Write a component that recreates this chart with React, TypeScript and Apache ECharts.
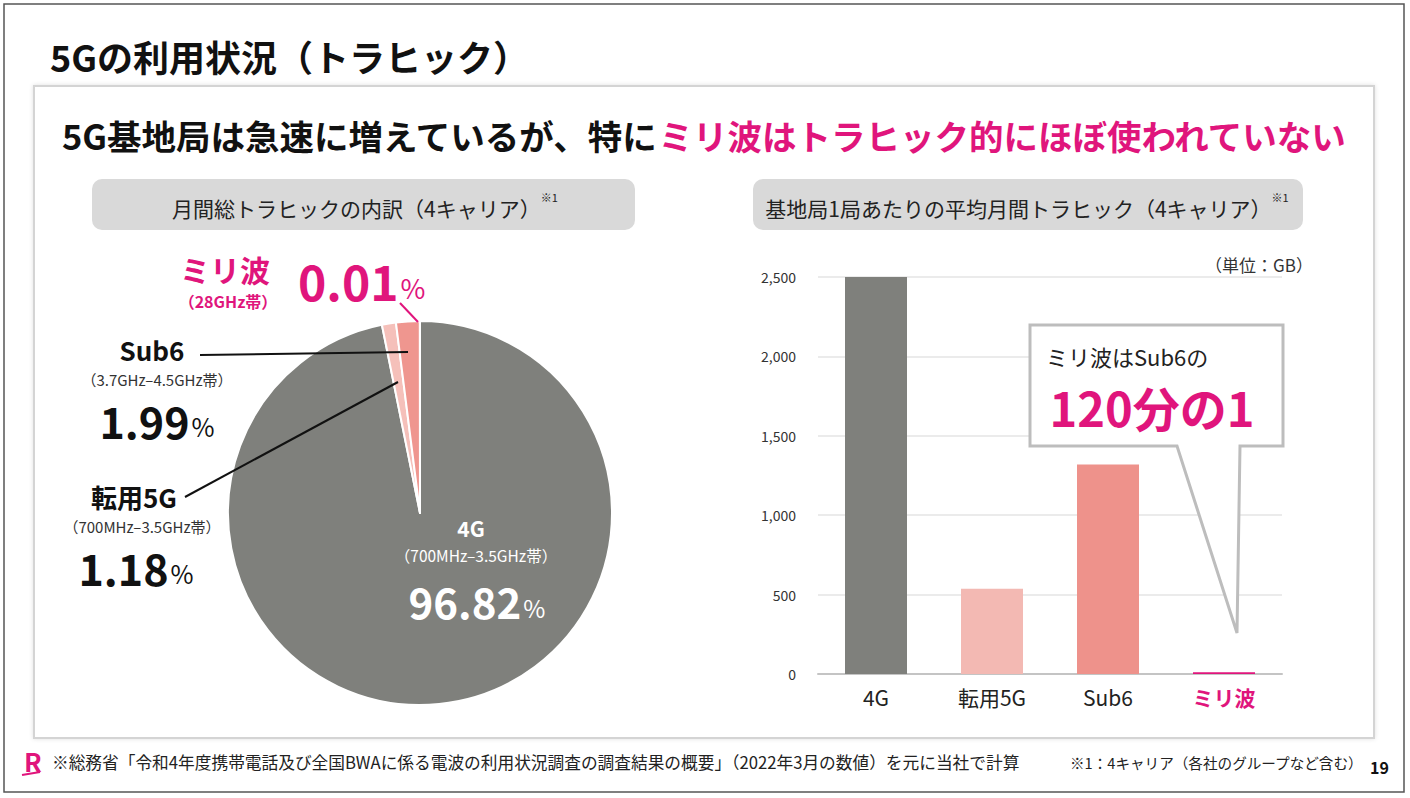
import React, { useEffect, useRef } from 'react';
import * as echarts from 'echarts';

// ---- data ----
const categories = ['4G', '転用5G', 'Sub6', 'ミリ波'];
const pieShares = [96.82, 1.18, 1.99, 0.01];
const barValues = [2510, 537, 1319, 11];
const yMin = 0;
const yMax = 2500;
const yInterval = 500;
const barColors = ['#7f807c', '#f3b9b3', '#ee928b', '#e0157c'];
const pieColors = ['#7f807c', '#f5c0ba', '#ef968f', '#e0157c'];

const titleText = '5Gの利用状況（トラヒック）';
const headBlack = '5G基地局は急速に増えているが、特に';
const headPink = 'ミリ波はトラヒック的にほぼ使われていない';
const leftBoxText = '月間総トラヒックの内訳（4キャリア）';
const rightBoxText = '基地局1局あたりの平均月間トラヒック（4キャリア）';
const noteMark = '※1';
const unitText = '（単位：GB）';
const calloutLine1 = 'ミリ波はSub6の';
const calloutLine2 = '120分の1';
const footerText = '※総務省「令和4年度携帯電話及び全国BWAに係る電波の利用状況調査の調査結果の概要」（2022年3月の数値）を元に当社で計算';
const footerNote = '※1：4キャリア（各社のグループなど含む）';
const pageNo = '19';

const PINK = '#e0157c';
const JP = '"Noto Sans CJK JP", "Noto Sans", sans-serif';

function txt(text: string, x: number, y: number, size: number, opts: any = {}) {
  return {
    type: 'text',
    z: opts.z ?? 50,
    style: {
      text,
      x,
      y,
      fontSize: size,
      fontFamily: JP,
      fontWeight: opts.weight ?? 'normal',
      fill: opts.fill ?? '#222',
      align: opts.align ?? 'left',
      verticalAlign: opts.valign ?? 'middle',
      lineHeight: opts.lh ?? Math.round(size * 1.15),
    },
  };
}

function pctText(num: string, x: number, y: number, color: string, big: number, small: number, align = 'center') {
  return {
    type: 'text',
    z: 50,
    style: {
      text: `{n|${num}}{p|%}`,
      x,
      y,
      align,
      verticalAlign: 'middle',
      rich: {
        n: { fontSize: big, fontWeight: 'bold', fontFamily: JP, fill: color, verticalAlign: 'bottom', lineHeight: big },
        p: { fontSize: small, fontWeight: 'normal', fontFamily: JP, fill: color, verticalAlign: 'bottom', lineHeight: small, padding: [0, 0, 3, 2] },
      },
    },
  };
}

function boxTitle(text: string, x: number, y: number) {
  return {
    type: 'text',
    z: 50,
    style: {
      text: `{m|${text}}{s|${noteMark}}`,
      x,
      y,
      align: 'center',
      verticalAlign: 'middle',
      rich: {
        m: { fontSize: 21, fontFamily: JP, fill: '#222', verticalAlign: 'bottom', lineHeight: 26 },
        s: { fontSize: 11, fontFamily: JP, fill: '#222', verticalAlign: 'top', lineHeight: 14 },
      },
    },
  };
}

export default function App() {
  const ref = useRef<HTMLDivElement>(null);
  useEffect(() => {
    document.body.style.margin = '0';
    const chart = echarts.init(ref.current!, null, { renderer: 'svg' });
    const option: any = {
      animation: false,
      backgroundColor: '#ffffff',
      grid: { left: 818, right: 128, top: 277, bottom: 124, containLabel: false },
      xAxis: {
        type: 'category',
        data: categories.map((c, i) =>
          i === 3 ? { value: c, textStyle: { color: PINK, fontWeight: 'bold' } } : c
        ),
        axisLine: { lineStyle: { color: '#c4c4c4', width: 2 } },
        axisTick: { show: false },
        axisLabel: { fontSize: 21, color: '#222', fontFamily: JP, margin: 12 },
      },
      yAxis: {
        type: 'value',
        min: yMin,
        max: yMax,
        interval: yInterval,
        axisLine: { show: false },
        axisTick: { show: false },
        axisLabel: { fontSize: 14, color: '#333', fontFamily: JP, margin: 22 },
        splitLine: { lineStyle: { color: '#e4e4e4', width: 1.5 } },
      },
      series: [
        {
          type: 'pie',
          center: [420, 513],
          radius: 192,
          startAngle: 90,
          clockwise: true,
          label: { show: false },
          labelLine: { show: false },
          emphasis: { disabled: true },
          itemStyle: { borderColor: '#ffffff', borderWidth: 2 },
          data: categories.map((c, i) => ({ name: c, value: pieShares[i], itemStyle: { color: pieColors[i] } })),
        },
        {
          type: 'bar',
          barWidth: 62,
          emphasis: { disabled: true },
          data: barValues.map((v, i) => ({ value: v, itemStyle: { color: barColors[i] } })),
        },
      ],
      graphic: [
        // page frame
        { type: 'rect', z: -10, shape: { x: 34, y: 86, width: 1340, height: 652 }, style: { fill: '#fff', stroke: '#d4d4d4', lineWidth: 2, shadowBlur: 4, shadowColor: 'rgba(0,0,0,0.12)' } },
        { type: 'rect', z: 1, shape: { x: 4, y: 4, width: 1400, height: 788 }, style: { fill: 'none', stroke: '#555', lineWidth: 1.5 } },
        txt(titleText, 50, 56, 36, { weight: 'bold', fill: '#111' }),
        {
          type: 'text', z: 50,
          style: {
            text: `{a|${headBlack}}{b|${headPink}}`,
            x: 62, y: 135, verticalAlign: 'middle', align: 'left',
            rich: {
              a: { fontSize: 34.5, fontWeight: 'bold', fontFamily: JP, fill: '#111' },
              b: { fontSize: 34.5, fontWeight: 'bold', fontFamily: JP, fill: PINK },
            },
          },
        },
        // section header boxes
        { type: 'rect', z: 5, shape: { x: 92, y: 179, width: 543, height: 51, r: 10 }, style: { fill: '#d9d9d9' } },
        { type: 'rect', z: 5, shape: { x: 753, y: 179, width: 550, height: 51, r: 10 }, style: { fill: '#d9d9d9' } },
        boxTitle(leftBoxText, 365, 205),
        boxTitle(rightBoxText, 1027, 205),
        // pie labels
        txt('ミリ波', 225, 269, 30, { weight: 'bold', fill: PINK, align: 'center', lh: 32 }),
        txt('（28GHz帯）', 228, 301, 16, { weight: 'bold', fill: PINK, align: 'center', lh: 17 }),
        pctText('0.01', 298, 280, PINK, 48, 27, 'left'),
        { type: 'line', z: 50, shape: { x1: 400, y1: 303, x2: 418, y2: 322 }, style: { stroke: PINK, lineWidth: 2 } },

        txt('Sub6', 152, 349, 26, { weight: 'bold', fill: '#111', align: 'center', lh: 27 }),
        txt('（3.7GHz–4.5GHz帯）', 157, 379, 15, { align: 'center', fill: '#333', lh: 16 }),
        pctText('1.99', 157, 420, '#111', 43, 25),
        { type: 'line', z: 50, shape: { x1: 200, y1: 355, x2: 408, y2: 352 }, style: { stroke: '#111', lineWidth: 2 } },

        txt('転用5G', 134, 496, 26, { weight: 'bold', fill: '#111', align: 'center', lh: 27 }),
        txt('（700MHz–3.5GHz帯）', 142, 526, 15, { align: 'center', fill: '#333', lh: 16 }),
        pctText('1.18', 136, 567, '#111', 43, 25),
        { type: 'line', z: 50, shape: { x1: 185, y1: 497, x2: 398, y2: 382 }, style: { stroke: '#111', lineWidth: 2 } },

        txt('4G', 471, 528, 21, { weight: 'bold', fill: '#fff', align: 'center', lh: 22 }),
        txt('（700MHz–3.5GHz帯）', 476, 555, 15.5, { fill: '#fff', align: 'center', lh: 16 }),
        pctText('96.82', 477, 601, '#fff', 42, 24),

        // bar chart annotations
        txt(unitText, 1313, 264, 17, { align: 'right', fill: '#333' }),
        {
          type: 'polygon', z: 60,
          shape: { points: [[1030, 325], [1283, 325], [1283, 446], [1240, 446], [1237, 633], [1177, 446], [1030, 446]] },
          style: { fill: '#fff', stroke: '#bdbdbd', lineWidth: 3, lineJoin: 'miter' },
        },
        txt(calloutLine1, 1046, 356, 22, { fill: '#222', z: 70 }),
        txt(calloutLine2, 1152, 406, 47, { fill: PINK, weight: 'bold', align: 'center', z: 70, lh: 50 }),

        // footer
        txt('R', 24, 760, 26, { weight: 'bold', fill: PINK }),
        { type: 'line', z: 50, shape: { x1: 22, y1: 775, x2: 40, y2: 772 }, style: { stroke: PINK, lineWidth: 2 } },
        txt(footerText, 52, 762, 16.7, { fill: '#222' }),
        txt(footerNote, 1070, 762, 14.6, { fill: '#222' }),
        txt(pageNo, 1370, 767, 16, { weight: 'bold', fill: '#111' }),
      ],
    };
    chart.setOption(option);
    return () => chart.dispose();
  }, []);
  return <div ref={ref} style={{ width: 1410, height: 798 }} />;
}
